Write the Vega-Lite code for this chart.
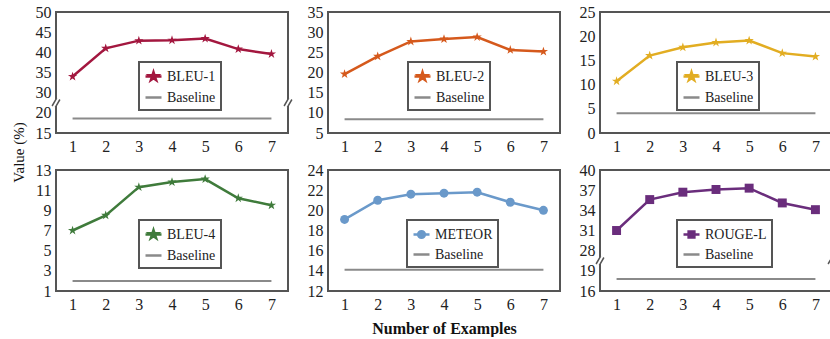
{
  "$schema": "https://vega.github.io/schema/vega-lite/v6.json",
  "padding": {"left": 10, "top": 3, "right": 0, "bottom": 0},
  "background": "white",
  "config": {
    "view": {"stroke": "#555555", "strokeWidth": 2},
    "font": "Liberation Serif",
    "axis": {"labelFont": "Liberation Serif", "labelFontSize": 16, "labelColor": "#222222", "ticks": false, "domain": false, "grid": false, "labelPadding": 5, "titleFont": "Liberation Serif", "titleColor": "#111111"},
    "legend": {"orient": "none", "legendY": 50, "title": null, "fillColor": "white", "strokeColor": "#555555", "padding": 5, "symbolSize": 256, "labelFont": "Liberation Serif", "labelFontSize": 14, "labelColor": "#222222", "rowPadding": 2, "labelOffset": 4}
  },
  "datasets": {
    "d": [
      {"panel": "BLEU-1", "series": "BLEU-1", "n": 1, "value": 34.0},
      {"panel": "BLEU-1", "series": "BLEU-1", "n": 2, "value": 41.0},
      {"panel": "BLEU-1", "series": "BLEU-1", "n": 3, "value": 42.9},
      {"panel": "BLEU-1", "series": "BLEU-1", "n": 4, "value": 43.0},
      {"panel": "BLEU-1", "series": "BLEU-1", "n": 5, "value": 43.4},
      {"panel": "BLEU-1", "series": "BLEU-1", "n": 6, "value": 40.8},
      {"panel": "BLEU-1", "series": "BLEU-1", "n": 7, "value": 39.6},
      {"panel": "BLEU-1", "series": "Baseline", "n": 1, "value": 18.6},
      {"panel": "BLEU-1", "series": "Baseline", "n": 2, "value": 18.6},
      {"panel": "BLEU-1", "series": "Baseline", "n": 3, "value": 18.6},
      {"panel": "BLEU-1", "series": "Baseline", "n": 4, "value": 18.6},
      {"panel": "BLEU-1", "series": "Baseline", "n": 5, "value": 18.6},
      {"panel": "BLEU-1", "series": "Baseline", "n": 6, "value": 18.6},
      {"panel": "BLEU-1", "series": "Baseline", "n": 7, "value": 18.6},
      {"panel": "BLEU-2", "series": "BLEU-2", "n": 1, "value": 19.6},
      {"panel": "BLEU-2", "series": "BLEU-2", "n": 2, "value": 24.0},
      {"panel": "BLEU-2", "series": "BLEU-2", "n": 3, "value": 27.7},
      {"panel": "BLEU-2", "series": "BLEU-2", "n": 4, "value": 28.3},
      {"panel": "BLEU-2", "series": "BLEU-2", "n": 5, "value": 28.8},
      {"panel": "BLEU-2", "series": "BLEU-2", "n": 6, "value": 25.6},
      {"panel": "BLEU-2", "series": "BLEU-2", "n": 7, "value": 25.2},
      {"panel": "BLEU-2", "series": "Baseline", "n": 1, "value": 8.4},
      {"panel": "BLEU-2", "series": "Baseline", "n": 2, "value": 8.4},
      {"panel": "BLEU-2", "series": "Baseline", "n": 3, "value": 8.4},
      {"panel": "BLEU-2", "series": "Baseline", "n": 4, "value": 8.4},
      {"panel": "BLEU-2", "series": "Baseline", "n": 5, "value": 8.4},
      {"panel": "BLEU-2", "series": "Baseline", "n": 6, "value": 8.4},
      {"panel": "BLEU-2", "series": "Baseline", "n": 7, "value": 8.4},
      {"panel": "BLEU-3", "series": "BLEU-3", "n": 1, "value": 10.7},
      {"panel": "BLEU-3", "series": "BLEU-3", "n": 2, "value": 16.0},
      {"panel": "BLEU-3", "series": "BLEU-3", "n": 3, "value": 17.7},
      {"panel": "BLEU-3", "series": "BLEU-3", "n": 4, "value": 18.7},
      {"panel": "BLEU-3", "series": "BLEU-3", "n": 5, "value": 19.1},
      {"panel": "BLEU-3", "series": "BLEU-3", "n": 6, "value": 16.5},
      {"panel": "BLEU-3", "series": "BLEU-3", "n": 7, "value": 15.8},
      {"panel": "BLEU-3", "series": "Baseline", "n": 1, "value": 4.1},
      {"panel": "BLEU-3", "series": "Baseline", "n": 2, "value": 4.1},
      {"panel": "BLEU-3", "series": "Baseline", "n": 3, "value": 4.1},
      {"panel": "BLEU-3", "series": "Baseline", "n": 4, "value": 4.1},
      {"panel": "BLEU-3", "series": "Baseline", "n": 5, "value": 4.1},
      {"panel": "BLEU-3", "series": "Baseline", "n": 6, "value": 4.1},
      {"panel": "BLEU-3", "series": "Baseline", "n": 7, "value": 4.1},
      {"panel": "BLEU-4", "series": "BLEU-4", "n": 1, "value": 7.0},
      {"panel": "BLEU-4", "series": "BLEU-4", "n": 2, "value": 8.5},
      {"panel": "BLEU-4", "series": "BLEU-4", "n": 3, "value": 11.3},
      {"panel": "BLEU-4", "series": "BLEU-4", "n": 4, "value": 11.8},
      {"panel": "BLEU-4", "series": "BLEU-4", "n": 5, "value": 12.1},
      {"panel": "BLEU-4", "series": "BLEU-4", "n": 6, "value": 10.2},
      {"panel": "BLEU-4", "series": "BLEU-4", "n": 7, "value": 9.5},
      {"panel": "BLEU-4", "series": "Baseline", "n": 1, "value": 2.0},
      {"panel": "BLEU-4", "series": "Baseline", "n": 2, "value": 2.0},
      {"panel": "BLEU-4", "series": "Baseline", "n": 3, "value": 2.0},
      {"panel": "BLEU-4", "series": "Baseline", "n": 4, "value": 2.0},
      {"panel": "BLEU-4", "series": "Baseline", "n": 5, "value": 2.0},
      {"panel": "BLEU-4", "series": "Baseline", "n": 6, "value": 2.0},
      {"panel": "BLEU-4", "series": "Baseline", "n": 7, "value": 2.0},
      {"panel": "METEOR", "series": "METEOR", "n": 1, "value": 19.1},
      {"panel": "METEOR", "series": "METEOR", "n": 2, "value": 21.0},
      {"panel": "METEOR", "series": "METEOR", "n": 3, "value": 21.6},
      {"panel": "METEOR", "series": "METEOR", "n": 4, "value": 21.7},
      {"panel": "METEOR", "series": "METEOR", "n": 5, "value": 21.8},
      {"panel": "METEOR", "series": "METEOR", "n": 6, "value": 20.8},
      {"panel": "METEOR", "series": "METEOR", "n": 7, "value": 20.0},
      {"panel": "METEOR", "series": "Baseline", "n": 1, "value": 14.1},
      {"panel": "METEOR", "series": "Baseline", "n": 2, "value": 14.1},
      {"panel": "METEOR", "series": "Baseline", "n": 3, "value": 14.1},
      {"panel": "METEOR", "series": "Baseline", "n": 4, "value": 14.1},
      {"panel": "METEOR", "series": "Baseline", "n": 5, "value": 14.1},
      {"panel": "METEOR", "series": "Baseline", "n": 6, "value": 14.1},
      {"panel": "METEOR", "series": "Baseline", "n": 7, "value": 14.1},
      {"panel": "ROUGE-L", "series": "ROUGE-L", "n": 1, "value": 31.0},
      {"panel": "ROUGE-L", "series": "ROUGE-L", "n": 2, "value": 35.6},
      {"panel": "ROUGE-L", "series": "ROUGE-L", "n": 3, "value": 36.7},
      {"panel": "ROUGE-L", "series": "ROUGE-L", "n": 4, "value": 37.1},
      {"panel": "ROUGE-L", "series": "ROUGE-L", "n": 5, "value": 37.3},
      {"panel": "ROUGE-L", "series": "ROUGE-L", "n": 6, "value": 35.1},
      {"panel": "ROUGE-L", "series": "ROUGE-L", "n": 7, "value": 34.1},
      {"panel": "ROUGE-L", "series": "Baseline", "n": 1, "value": 17.8},
      {"panel": "ROUGE-L", "series": "Baseline", "n": 2, "value": 17.8},
      {"panel": "ROUGE-L", "series": "Baseline", "n": 3, "value": 17.8},
      {"panel": "ROUGE-L", "series": "Baseline", "n": 4, "value": 17.8},
      {"panel": "ROUGE-L", "series": "Baseline", "n": 5, "value": 17.8},
      {"panel": "ROUGE-L", "series": "Baseline", "n": 6, "value": 17.8},
      {"panel": "ROUGE-L", "series": "Baseline", "n": 7, "value": 17.8}
    ],
    "breaks1": [{"edge": 0.5, "level": 25}, {"edge": 7.5, "level": 25}],
    "breaks6": [{"edge": 0.5, "level": 23.5}, {"edge": 7.5, "level": 23.5}]
  },
  "columns": 3,
  "spacing": {"row": 37, "column": 40},
  "bounds": "flush",
  "resolve": {"scale": {"color": "independent", "x": "independent", "y": "independent"}, "legend": {"color": "independent"}},
  "concat": [
    {
      "width": 232, "height": 121,
      "encoding": {
        "x": {"field": "n", "type": "quantitative", "scale": {"domain": [0.5, 7.5], "nice": false, "zero": false}, "axis": {"values": [1, 2, 3, 4, 5, 6, 7], "title": null}},
        "y": {"field": "value", "type": "quantitative", "scale": {"domain": [15, 20, 30, 50], "range": [121, 100.83, 80.67, 0], "nice": false, "zero": false}, "axis": {"values": [15, 20, 30, 35, 40, 45, 50], "title": null}}
      },
      "layer": [
        {"data": {"name": "d"},
         "transform": [{"filter": "datum.panel === 'BLEU-1'"}],
         "mark": {"type": "line"},
         "encoding": {
           "color": {"field": "series", "type": "nominal", "scale": {"domain": ["BLEU-1", "Baseline"], "range": ["#a3173f", "#8a8a8a"]},
             "legend": {"legendX": 83, "encode": {"symbols": {"update": {"shape": {"signal": "datum.value === 'Baseline' ? 'M-1,0L1,0' : 'M-1,0L1,0M0,-0.55L0.124,-0.17L0.523,-0.17L0.2,0.065L0.323,0.445L0,0.21L-0.323,0.445L-0.2,0.065L-0.523,-0.17L-0.124,-0.17Z'"}, "fill": {"signal": "datum.value === 'Baseline' ? 'transparent' : '#a3173f'"}, "stroke": {"signal": "datum.value === 'Baseline' ? '#8a8a8a' : '#a3173f'"}, "strokeWidth": {"value": 2.5}, "opacity": {"value": 1}}}, "legend": {"update": {"strokeWidth": {"value": 2}}}}}},
           "strokeWidth": {"condition": {"test": "datum.series === 'Baseline'", "value": 2}, "value": 2.5}
         }},
        {"data": {"name": "d"},
         "transform": [{"filter": "datum.panel === 'BLEU-1' && datum.series !== 'Baseline'"}],
         "mark": {"type": "point", "shape": "M0,-1L0.225,-0.309L0.951,-0.309L0.363,0.118L0.588,0.809L0,0.382L-0.588,0.809L-0.363,0.118L-0.951,-0.309L-0.225,-0.309Z", "filled": true, "size": 95, "opacity": 1, "color": "#a3173f"},
         "encoding": {}},
        {"data": {"name": "breaks1"},
         "mark": {"type": "point", "shape": "M-0.6,0.5L0.1,-0.7L0.6,-0.5L-0.1,0.7Z", "filled": true, "color": "white", "size": 169, "opacity": 1},
         "encoding": {"x": {"field": "edge", "type": "quantitative"}, "y": {"field": "level", "type": "quantitative"}}},
        {"data": {"name": "breaks1"},
         "mark": {"type": "point", "shape": "M-0.6,0.5L0.1,-0.7M-0.1,0.7L0.6,-0.5", "filled": false, "color": "#555555", "strokeWidth": 1.5, "size": 169, "opacity": 1},
         "encoding": {"x": {"field": "edge", "type": "quantitative"}, "y": {"field": "level", "type": "quantitative"}}}
      ]
    },
    {
      "width": 232, "height": 121,
      "data": {"name": "d"},
      "transform": [{"filter": "datum.panel === 'BLEU-2'"}],
      "encoding": {
        "x": {"field": "n", "type": "quantitative", "scale": {"domain": [0.5, 7.5], "nice": false, "zero": false}, "axis": {"values": [1, 2, 3, 4, 5, 6, 7], "title": null}},
        "y": {"field": "value", "type": "quantitative", "scale": {"domain": [5, 35], "nice": false, "zero": false}, "axis": {"values": [5, 10, 15, 20, 25, 30, 35], "title": null}}
      },
      "layer": [
        {"mark": {"type": "line"},
         "encoding": {
           "color": {"field": "series", "type": "nominal", "scale": {"domain": ["BLEU-2", "Baseline"], "range": ["#d5591c", "#8a8a8a"]},
             "legend": {"legendX": 80, "encode": {"symbols": {"update": {"shape": {"signal": "datum.value === 'Baseline' ? 'M-1,0L1,0' : 'M-1,0L1,0M0,-0.55L0.124,-0.17L0.523,-0.17L0.2,0.065L0.323,0.445L0,0.21L-0.323,0.445L-0.2,0.065L-0.523,-0.17L-0.124,-0.17Z'"}, "fill": {"signal": "datum.value === 'Baseline' ? 'transparent' : '#d5591c'"}, "stroke": {"signal": "datum.value === 'Baseline' ? '#8a8a8a' : '#d5591c'"}, "strokeWidth": {"value": 2.5}, "opacity": {"value": 1}}}, "legend": {"update": {"strokeWidth": {"value": 2}}}}}},
           "strokeWidth": {"condition": {"test": "datum.series === 'Baseline'", "value": 2}, "value": 2.5}
         }},
        {"transform": [{"filter": "datum.series !== 'Baseline'"}],
         "mark": {"type": "point", "shape": "M0,-1L0.225,-0.309L0.951,-0.309L0.363,0.118L0.588,0.809L0,0.382L-0.588,0.809L-0.363,0.118L-0.951,-0.309L-0.225,-0.309Z", "filled": true, "size": 95, "opacity": 1, "color": "#d5591c"},
         "encoding": {}}
      ]
    },
    {
      "width": 232, "height": 121,
      "data": {"name": "d"},
      "transform": [{"filter": "datum.panel === 'BLEU-3'"}],
      "encoding": {
        "x": {"field": "n", "type": "quantitative", "scale": {"domain": [0.5, 7.5], "nice": false, "zero": false}, "axis": {"values": [1, 2, 3, 4, 5, 6, 7], "title": null}},
        "y": {"field": "value", "type": "quantitative", "scale": {"domain": [0, 25], "nice": false, "zero": false}, "axis": {"values": [0, 5, 10, 15, 20, 25], "title": null}}
      },
      "layer": [
        {"mark": {"type": "line"},
         "encoding": {
           "color": {"field": "series", "type": "nominal", "scale": {"domain": ["BLEU-3", "Baseline"], "range": ["#e2ad22", "#8a8a8a"]},
             "legend": {"legendX": 77, "encode": {"symbols": {"update": {"shape": {"signal": "datum.value === 'Baseline' ? 'M-1,0L1,0' : 'M-1,0L1,0M0,-0.55L0.124,-0.17L0.523,-0.17L0.2,0.065L0.323,0.445L0,0.21L-0.323,0.445L-0.2,0.065L-0.523,-0.17L-0.124,-0.17Z'"}, "fill": {"signal": "datum.value === 'Baseline' ? 'transparent' : '#e2ad22'"}, "stroke": {"signal": "datum.value === 'Baseline' ? '#8a8a8a' : '#e2ad22'"}, "strokeWidth": {"value": 2.5}, "opacity": {"value": 1}}}, "legend": {"update": {"strokeWidth": {"value": 2}}}}}},
           "strokeWidth": {"condition": {"test": "datum.series === 'Baseline'", "value": 2}, "value": 2.5}
         }},
        {"transform": [{"filter": "datum.series !== 'Baseline'"}],
         "mark": {"type": "point", "shape": "M0,-1L0.225,-0.309L0.951,-0.309L0.363,0.118L0.588,0.809L0,0.382L-0.588,0.809L-0.363,0.118L-0.951,-0.309L-0.225,-0.309Z", "filled": true, "size": 95, "opacity": 1, "color": "#e2ad22"},
         "encoding": {}}
      ]
    },
    {
      "width": 232, "height": 121,
      "data": {"name": "d"},
      "transform": [{"filter": "datum.panel === 'BLEU-4'"}],
      "encoding": {
        "x": {"field": "n", "type": "quantitative", "scale": {"domain": [0.5, 7.5], "nice": false, "zero": false}, "axis": {"values": [1, 2, 3, 4, 5, 6, 7], "title": null}},
        "y": {"field": "value", "type": "quantitative", "scale": {"domain": [1, 13], "nice": false, "zero": false}, "axis": {"values": [1, 3, 5, 7, 9, 11, 13], "title": "Value (%)", "titleFontWeight": "normal", "titleFontSize": 15, "titleX": -38, "titleY": -18, "titleAngle": -90, "titleAlign": "center", "titleBaseline": "middle"}}
      },
      "layer": [
        {"mark": {"type": "line"},
         "encoding": {
           "color": {"field": "series", "type": "nominal", "scale": {"domain": ["BLEU-4", "Baseline"], "range": ["#3f7b3b", "#8a8a8a"]},
             "legend": {"legendX": 83, "encode": {"symbols": {"update": {"shape": {"signal": "datum.value === 'Baseline' ? 'M-1,0L1,0' : 'M-1,0L1,0M0,-0.55L0.124,-0.17L0.523,-0.17L0.2,0.065L0.323,0.445L0,0.21L-0.323,0.445L-0.2,0.065L-0.523,-0.17L-0.124,-0.17Z'"}, "fill": {"signal": "datum.value === 'Baseline' ? 'transparent' : '#3f7b3b'"}, "stroke": {"signal": "datum.value === 'Baseline' ? '#8a8a8a' : '#3f7b3b'"}, "strokeWidth": {"value": 2.5}, "opacity": {"value": 1}}}, "legend": {"update": {"strokeWidth": {"value": 2}}}}}},
           "strokeWidth": {"condition": {"test": "datum.series === 'Baseline'", "value": 2}, "value": 2.5}
         }},
        {"transform": [{"filter": "datum.series !== 'Baseline'"}],
         "mark": {"type": "point", "shape": "M0,-1L0.225,-0.309L0.951,-0.309L0.363,0.118L0.588,0.809L0,0.382L-0.588,0.809L-0.363,0.118L-0.951,-0.309L-0.225,-0.309Z", "filled": true, "size": 95, "opacity": 1, "color": "#3f7b3b"},
         "encoding": {}}
      ]
    },
    {
      "width": 232, "height": 121,
      "data": {"name": "d"},
      "transform": [{"filter": "datum.panel === 'METEOR'"}],
      "encoding": {
        "x": {"field": "n", "type": "quantitative", "scale": {"domain": [0.5, 7.5], "nice": false, "zero": false}, "axis": {"values": [1, 2, 3, 4, 5, 6, 7], "title": "Number of Examples", "titleFontWeight": "bold", "titleFontSize": 16, "titlePadding": 8}},
        "y": {"field": "value", "type": "quantitative", "scale": {"domain": [12, 24], "nice": false, "zero": false}, "axis": {"values": [12, 14, 16, 18, 20, 22, 24], "title": null}}
      },
      "layer": [
        {"mark": {"type": "line"},
         "encoding": {
           "color": {"field": "series", "type": "nominal", "scale": {"domain": ["METEOR", "Baseline"], "range": ["#6a99ca", "#8a8a8a"]},
             "legend": {"legendX": 79, "encode": {"symbols": {"update": {"shape": {"signal": "datum.value === 'Baseline' ? 'M-1,0L1,0' : 'M-1,0L1,0M0.42,0A0.42,0.42,0,1,1,-0.42,0A0.42,0.42,0,1,1,0.42,0Z'"}, "fill": {"signal": "datum.value === 'Baseline' ? 'transparent' : '#6a99ca'"}, "stroke": {"signal": "datum.value === 'Baseline' ? '#8a8a8a' : '#6a99ca'"}, "strokeWidth": {"value": 2.5}, "opacity": {"value": 1}}}, "legend": {"update": {"strokeWidth": {"value": 2}}}}}},
           "strokeWidth": {"condition": {"test": "datum.series === 'Baseline'", "value": 2}, "value": 2.5}
         }},
        {"transform": [{"filter": "datum.series !== 'Baseline'"}],
         "mark": {"type": "point", "shape": "circle", "filled": true, "size": 80, "opacity": 1, "color": "#6a99ca"},
         "encoding": {}}
      ]
    },
    {
      "width": 232, "height": 121,
      "encoding": {
        "x": {"field": "n", "type": "quantitative", "scale": {"domain": [0.5, 7.5], "nice": false, "zero": false}, "axis": {"values": [1, 2, 3, 4, 5, 6, 7], "title": null}},
        "y": {"field": "value", "type": "quantitative", "scale": {"domain": [16, 19, 28, 40], "range": [121, 100.83, 80.67, 0], "nice": false, "zero": false}, "axis": {"values": [16, 19, 28, 31, 34, 37, 40], "title": null}}
      },
      "layer": [
        {"data": {"name": "d"},
         "transform": [{"filter": "datum.panel === 'ROUGE-L'"}],
         "mark": {"type": "line"},
         "encoding": {
           "color": {"field": "series", "type": "nominal", "scale": {"domain": ["ROUGE-L", "Baseline"], "range": ["#6a2d7c", "#8a8a8a"]},
             "legend": {"legendX": 77, "encode": {"symbols": {"update": {"shape": {"signal": "datum.value === 'Baseline' ? 'M-1,0L1,0' : 'M-1,0L1,0M-0.36,-0.36L0.36,-0.36L0.36,0.36L-0.36,0.36Z'"}, "fill": {"signal": "datum.value === 'Baseline' ? 'transparent' : '#6a2d7c'"}, "stroke": {"signal": "datum.value === 'Baseline' ? '#8a8a8a' : '#6a2d7c'"}, "strokeWidth": {"value": 2.5}, "opacity": {"value": 1}}}, "legend": {"update": {"strokeWidth": {"value": 2}}}}}},
           "strokeWidth": {"condition": {"test": "datum.series === 'Baseline'", "value": 2}, "value": 2.5}
         }},
        {"data": {"name": "d"},
         "transform": [{"filter": "datum.panel === 'ROUGE-L' && datum.series !== 'Baseline'"}],
         "mark": {"type": "point", "shape": "square", "filled": true, "size": 80, "opacity": 1, "color": "#6a2d7c"},
         "encoding": {}},
        {"data": {"name": "breaks6"},
         "mark": {"type": "point", "shape": "M-0.6,0.5L0.1,-0.7L0.6,-0.5L-0.1,0.7Z", "filled": true, "color": "white", "size": 169, "opacity": 1},
         "encoding": {"x": {"field": "edge", "type": "quantitative"}, "y": {"field": "level", "type": "quantitative"}}},
        {"data": {"name": "breaks6"},
         "mark": {"type": "point", "shape": "M-0.6,0.5L0.1,-0.7M-0.1,0.7L0.6,-0.5", "filled": false, "color": "#555555", "strokeWidth": 1.5, "size": 169, "opacity": 1},
         "encoding": {"x": {"field": "edge", "type": "quantitative"}, "y": {"field": "level", "type": "quantitative"}}}
      ]
    }
  ]
}
